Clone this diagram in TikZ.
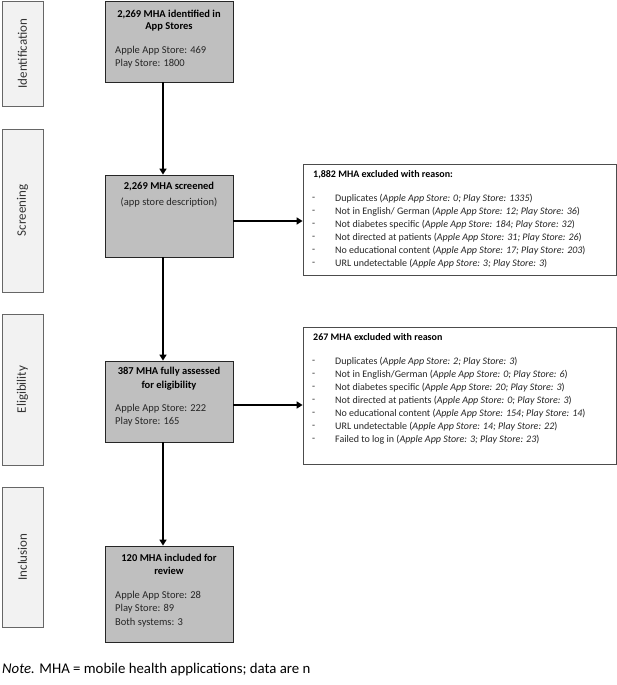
\documentclass[tikz,border=0pt]{standalone}
\usepackage{fontspec}
\setmainfont{Carlito}
\usetikzlibrary{arrows.meta}
\begin{document}
\begin{tikzpicture}[x=1pt,y=-1pt,
  side/.style={draw=black!60,fill=black!5,line width=0.8pt,inner sep=0pt},
  mainbox/.style={draw=black!85,fill=black!25,line width=0.8pt,inner sep=0pt},
  exbox/.style={draw=black!70,fill=white,line width=0.8pt,inner sep=0pt},
  sidelbl/.style={rotate=90,font=\fontsize{13}{15}\selectfont,text=black!80},
  ttl/.style={font=\fontsize{10.5}{12}\selectfont\bfseries,inner sep=0pt},
  btxt/.style={font=\fontsize{10.5}{12}\selectfont,inner sep=0pt,anchor=west,text=black!85},
  txt/.style={font=\fontsize{10}{12}\selectfont,inner sep=0pt,anchor=west,text=black!85},
  ettl/.style={font=\fontsize{10}{12}\selectfont\bfseries,inner sep=0pt,anchor=west},
  arr/.style={line width=2.2pt,-{Triangle[length=6pt,width=7pt]}}
]
\useasboundingbox (0,0) rectangle (617,685);
% side labels
\node[side,minimum width=41pt,minimum height=105pt] (s1) at (22.5,53.5) {};
\node[sidelbl] at (s1) {Identification};
\node[side,minimum width=41pt,minimum height=163pt] (s2) at (22.5,210.5) {};
\node[sidelbl] at (s2) {Screening};
\node[side,minimum width=41pt,minimum height=151pt] (s3) at (22.5,389.5) {};
\node[sidelbl] at (s3) {Eligibility};
\node[side,minimum width=41pt,minimum height=140pt] (s4) at (22.5,557) {};
\node[sidelbl] at (s4) {Inclusion};
% main boxes
\node[mainbox,minimum width=128pt,minimum height=81pt] (b1) at (169,41.5) {};
\node[ttl] at (169,14.7) {2,269 MHA identified in};
\node[ttl] at (169,27) {App Stores};
\node[btxt] at (115,51) {Apple App Store: 469};
\node[btxt] at (115,64) {Play Store: 1800};

\node[mainbox,minimum width=128pt,minimum height=82pt] (b2) at (169,216) {};
\node[ttl] at (169,187) {2,269 MHA screened};
\node[btxt,anchor=center] at (169,203) {(app store description)};

\node[mainbox,minimum width=128pt,minimum height=81pt] (b3) at (169,401.5) {};
\node[ttl] at (169,372) {387 MHA fully assessed};
\node[ttl] at (169,386) {for eligibility};
\node[btxt] at (115,409) {Apple App Store: 222};
\node[btxt] at (115,422) {Play Store: 165};

\node[mainbox,minimum width=128pt,minimum height=96pt] (b4) at (169,594) {};
\node[ttl] at (169,558) {120 MHA included for};
\node[ttl] at (169,571) {review};
\node[btxt] at (115,596) {Apple App Store: 28};
\node[btxt] at (115,609) {Play Store: 89};
\node[btxt] at (115,623) {Both systems: 3};

% exclusion boxes
\node[exbox,minimum width=313pt,minimum height=111pt] (e1) at (459.5,219.5) {};
\node[ettl] at (313,175) {1,882 MHA excluded with reason:};
\foreach \y/\t in {199/{Duplicates (\textit{Apple App Store: 0; Play Store: 1335})},
  212/{Not in English/ German (\textit{Apple App Store: 12; Play Store: 36})},
  225/{Not diabetes specific (\textit{Apple App Store: 184; Play Store: 32})},
  238/{Not directed at patients (\textit{Apple App Store: 31; Play Store: 26})},
  251/{No educational content (\textit{Apple App Store: 17; Play Store: 203})},
  264/{URL undetectable (\textit{Apple App Store: 3; Play Store: 3})}}{
  \node[txt] at (312,\y) {-};
  \node[txt] at (335,\y) {\t};
}
\node[exbox,minimum width=313pt,minimum height=137pt] (e2) at (459.5,395.5) {};
\node[ettl] at (313,337) {267 MHA excluded with reason};
\foreach \y/\t in {362/{Duplicates (\textit{Apple App Store: 2; Play Store: 3})},
  375/{Not in English/German (\textit{Apple App Store: 0; Play Store: 6})},
  388/{Not diabetes specific (\textit{Apple App Store: 20; Play Store: 3})},
  401/{Not directed at patients (\textit{Apple App Store: 0; Play Store: 3})},
  414/{No educational content (\textit{Apple App Store: 154; Play Store: 14})},
  427/{URL undetectable (\textit{Apple App Store: 14; Play Store: 22})},
  440/{Failed to log in (\textit{Apple App Store: 3; Play Store: 23})}}{
  \node[txt] at (312,\y) {-};
  \node[txt] at (335,\y) {\t};
}
% arrows
\draw[arr] (b1.south -| 163,0) -- (b2.north -| 163,0);
\draw[arr] (b2.south -| 163,0) -- (b3.north -| 163,0);
\draw[arr] (b3.south -| 163,0) -- (b4.north -| 163,0);
\draw[arr] (b2.east |- 0,221) -- (e1.west |- 0,221);
\draw[arr] (b3.east |- 0,405) -- (e2.west |- 0,405);
% note
\node[anchor=west,inner sep=0pt,font=\fontsize{14.8}{17}\selectfont] (note) at (2,670) {\textit{Note.} MHA = mobile health applications; data are n};
\end{tikzpicture}
\end{document}
